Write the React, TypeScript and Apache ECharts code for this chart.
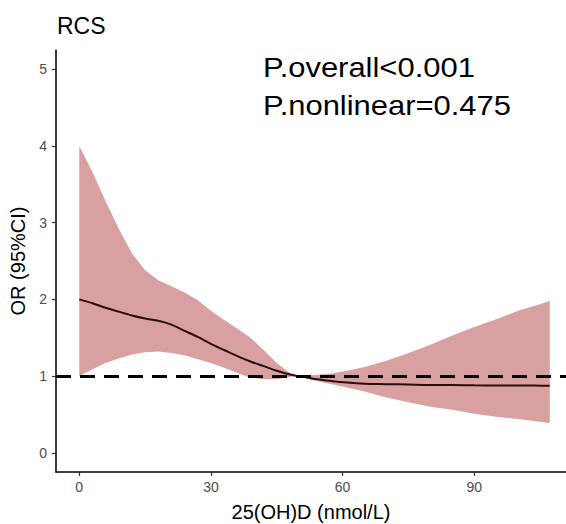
import React, { useEffect, useRef } from "react";
import * as echarts from "echarts";

const xValues = [0, 3, 6, 9, 12, 15, 18, 21, 24, 27, 30, 33, 36, 39, 42, 45, 48, 50, 53, 57, 61, 65, 70, 75, 80, 85, 90, 95, 100, 104, 107.2];
const orValues = [2.0, 1.95, 1.89, 1.84, 1.79, 1.75, 1.72, 1.67, 1.59, 1.51, 1.42, 1.34, 1.26, 1.19, 1.13, 1.07, 1.02, 1.0, 0.97, 0.94, 0.915, 0.9, 0.895, 0.89, 0.885, 0.885, 0.88, 0.878, 0.877, 0.876, 0.875];
const upperValues = [4.0, 3.66, 3.28, 2.92, 2.6, 2.38, 2.25, 2.17, 2.09, 1.99, 1.85, 1.73, 1.62, 1.5, 1.34, 1.17, 1.04, 1.0, 1.01, 1.03, 1.07, 1.12, 1.2, 1.3, 1.41, 1.53, 1.64, 1.74, 1.85, 1.92, 1.98];
const lowerValues = [1.0, 1.09, 1.17, 1.23, 1.28, 1.31, 1.32, 1.3, 1.27, 1.22, 1.17, 1.11, 1.04, 0.98, 0.96, 0.96, 0.99, 1.0, 0.95, 0.9, 0.85, 0.8, 0.72, 0.66, 0.6, 0.56, 0.51, 0.47, 0.44, 0.41, 0.39];
const xTicks = [0, 30, 60, 90];
const yTicks = [0, 1, 2, 3, 4, 5];
const refValue = 1;
const titleText = "RCS";
const pTexts = ["P.overall<0.001", "P.nonlinear=0.475"];

export default function App() {
  const ref = useRef<HTMLDivElement>(null);
  useEffect(() => {
    if (!ref.current) return;
    const chart = echarts.init(ref.current, undefined, { renderer: "svg" });
    const font = "Liberation Sans, Arial, sans-serif";
    const linePts = xValues.map((x, i) => [x, orValues[i]]);
    const bandData = xValues.map((x, i) => [x, lowerValues[i], upperValues[i]]);
    chart.setOption({
      animation: false,
      grid: { left: 56, right: 0, top: 50, bottom: 52, containLabel: false, outerBoundsMode: "none" },
      xAxis: {
        type: "value",
        min: -5.3,
        max: 110.9,
        name: "25(OH)D (nmol/L)",
        nameLocation: "middle",
        nameGap: 30,
        nameTextStyle: { fontFamily: font, fontSize: 20, color: "#000" },
        axisLine: { onZero: false, lineStyle: { color: "#000", width: 1.5 } },
        axisTick: { show: true, customValues: xTicks, length: 4, lineStyle: { color: "#333", width: 1.2 } },
        axisLabel: { customValues: xTicks, fontFamily: font, fontSize: 14, color: "#4d4d4d", margin: 8 },
        splitLine: { show: false },
      },
      yAxis: {
        type: "value",
        min: -0.25,
        max: 5.25,
        name: "OR (95%CI)",
        nameLocation: "middle",
        nameGap: 24,
        nameRotate: 90,
        nameTextStyle: { fontFamily: font, fontSize: 20, color: "#000" },
        axisLine: { onZero: false, lineStyle: { color: "#000", width: 1.5 } },
        axisTick: { show: true, customValues: yTicks, length: 4, lineStyle: { color: "#333", width: 1.2 } },
        axisLabel: { customValues: yTicks, fontFamily: font, fontSize: 14, color: "#4d4d4d", margin: 9 },
        splitLine: { show: false },
      },
      series: [
        {
          type: "custom",
          data: bandData,
          encode: { x: 0, y: [1, 2] },
          clip: true,
          renderItem: (params: any, api: any) => {
            if (params.dataIndex !== 0) return null;
            const pts: number[][] = [];
            for (let i = 0; i < bandData.length; i++) pts.push(api.coord([bandData[i][0], bandData[i][2]]));
            for (let i = bandData.length - 1; i >= 0; i--) pts.push(api.coord([bandData[i][0], bandData[i][1]]));
            return { type: "polygon", shape: { points: pts, smooth: 0 }, style: { fill: "#d9a0a2", stroke: "none" } };
          },
          z: 1,
        },
        {
          type: "line",
          data: linePts,
          showSymbol: false,
          symbol: "none",
          smooth: 0.3,
          lineStyle: { color: "#2a0d0d", width: 2 },
          z: 3,
          markLine: {
            silent: true,
            symbol: ["none", "none"],
            label: { show: false },
            lineStyle: { color: "#000", width: 3, type: [15, 9] },
            data: [{ yAxis: refValue }],
          },
        },
      ],
      graphic: [
        { type: "text", left: 57, top: 14, style: { text: titleText, fontFamily: font, fontSize: 23, fill: "#000" } },
        { type: "text", x: 263, y: 53, scaleX: 1.105, style: { text: pTexts[0], fontFamily: font, fontSize: 28, fill: "#000" } },
        { type: "text", x: 263, y: 91, scaleX: 1.105, style: { text: pTexts[1], fontFamily: font, fontSize: 28, fill: "#000" } },
      ],
    });
    return () => chart.dispose();
  }, []);
  return <div ref={ref} style={{ position: "absolute", left: 0, top: 0, width: 566, height: 524 }} />;
}
